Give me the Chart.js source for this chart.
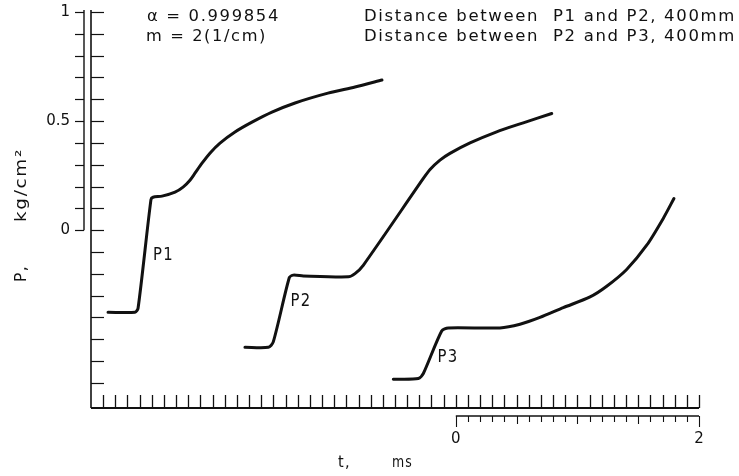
<!DOCTYPE html>
<html>
<head>
<meta charset="utf-8">
<script src="https://cdn.jsdelivr.net/npm/chart.js@4"></script>
<style>
  html, body { margin: 0; padding: 0; background: #fff; }
  #wrap { width: 739px; height: 476px; }
</style>
</head>
<body>
<div id="wrap"><canvas id="scope"></canvas></div>
<script>
// pressure traces, time in ms (lower scale zero), pressure in kg/cm2
var p1Time = [-2.860, -2.638, -2.613, -2.507, -2.490, -2.416, -2.309, -2.243, -2.186, -2.145, -2.087, -2.022, -1.939, -1.816, -1.676, -1.512, -1.322, -1.051, -0.829, -0.607];
var p1Pressure = [-0.376, -0.376, -0.358, 0.140, 0.151, 0.156, 0.174, 0.197, 0.229, 0.261, 0.307, 0.353, 0.399, 0.450, 0.495, 0.541, 0.583, 0.628, 0.656, 0.688];

var p2Time = [-1.734, -1.542, -1.501, -1.369, -1.336, -1.254, -0.884, -0.829, -0.761, -0.267, -0.212, -0.130, -0.048, 0.117, 0.336, 0.555, 0.789];
var p2Pressure = [-0.537, -0.537, -0.512, -0.217, -0.206, -0.210, -0.214, -0.199, -0.161, 0.237, 0.278, 0.321, 0.352, 0.400, 0.451, 0.492, 0.535];

var p3Time = [-0.514, -0.308, -0.267, -0.116, -0.062, 0.363, 0.528, 0.692, 0.884, 1.104, 1.241, 1.405, 1.570, 1.706, 1.794];
var p3Pressure = [-0.683, -0.680, -0.657, -0.462, -0.448, -0.448, -0.431, -0.400, -0.355, -0.306, -0.257, -0.180, -0.069, 0.054, 0.145];

var curveNames = ['P1', 'P2', 'P3'];
var pressureTickLabels = [0, 0.5, 1];
var timeTickLabels = [0, 2];

function pts(t, p){ return t.map(function(v, i){ return {x: v, y: p[i]}; }); }

var FONT = '"DejaVu Sans", sans-serif';

// lettering on the original is wide: stretch glyphs a bit and spread to the width
function spaced(ctx, text, x, y, w){
  ctx.letterSpacing = '1.5px';
  var m = ctx.measureText(text).width;
  var sx = Math.min(1.35, w / m);
  ctx.save();
  ctx.translate(x, y);
  ctx.scale(sx, 1);
  var rest = w / sx - m;
  if(rest > 0){ ctx.letterSpacing = (1.5 + rest / text.length) + 'px'; }
  ctx.fillText(text, 0, 0);
  ctx.restore();
  ctx.letterSpacing = '0px';
}

var scopeAxes = {
  id: 'scopeAxes',
  afterDraw: function(chart){
    var ctx = chart.ctx, a = chart.chartArea, x = chart.scales.x, y = chart.scales.y;
    var k, px, py;
    ctx.save();
    ctx.strokeStyle = '#111';
    ctx.fillStyle = '#111';
    ctx.lineCap = 'butt';

    // main pressure axis with inner ticks
    ctx.lineWidth = 1.6;
    ctx.beginPath();
    ctx.moveTo(a.left, y.getPixelForValue(1) - 2);
    ctx.lineTo(a.left, a.bottom);
    ctx.stroke();
    ctx.lineWidth = 1.2;
    for(k = -7; k <= 10; k++){
      py = Math.round(y.getPixelForValue(k / 10)) + 0.5;
      ctx.beginPath(); ctx.moveTo(a.left, py); ctx.lineTo(a.left + 13, py); ctx.stroke();
    }
    // outer scale, 0 .. 1
    ctx.lineWidth = 1.4;
    ctx.beginPath();
    ctx.moveTo(a.left - 7, y.getPixelForValue(1) - 2);
    ctx.lineTo(a.left - 7, y.getPixelForValue(0));
    ctx.stroke();
    ctx.lineWidth = 1.2;
    for(k = 0; k <= 10; k++){
      py = Math.round(y.getPixelForValue(k / 10)) + 0.5;
      ctx.beginPath(); ctx.moveTo(a.left - 16, py); ctx.lineTo(a.left - 7, py); ctx.stroke();
    }

    // time axis with upward ticks
    ctx.lineWidth = 2;
    ctx.beginPath(); ctx.moveTo(a.left, a.bottom); ctx.lineTo(a.right, a.bottom); ctx.stroke();
    ctx.lineWidth = 1.3;
    for(k = -29; k <= 20; k++){
      px = Math.round(x.getPixelForValue(k / 10)) + 0.5;
      ctx.beginPath(); ctx.moveTo(px, a.bottom); ctx.lineTo(px, a.bottom - 13); ctx.stroke();
    }
    // lower 0-2 ms reference scale
    var sy = a.bottom + 8;
    ctx.lineWidth = 1.5;
    ctx.beginPath(); ctx.moveTo(x.getPixelForValue(0), sy); ctx.lineTo(x.getPixelForValue(2), sy); ctx.stroke();
    ctx.lineWidth = 1.1;
    for(k = 0; k <= 20; k++){
      px = Math.round(x.getPixelForValue(k / 10)) + 0.5;
      var len = (k === 0 || k === 20) ? 11 : (k % 5 === 0 ? 8 : 6);
      ctx.beginPath(); ctx.moveTo(px, sy); ctx.lineTo(px, sy + len); ctx.stroke();
    }

    // curve labels, placed at data coordinates next to each rise
    ctx.font = '17px ' + FONT;
    ctx.textBaseline = 'middle';
    ctx.textAlign = 'left';
    var labelAt = [[-2.49, -0.115], [-1.36, -0.326], [-0.15, -0.583]];
    curveNames.forEach(function(n, i){
      spaced(ctx, n, x.getPixelForValue(labelAt[i][0]), y.getPixelForValue(labelAt[i][1]), 21);
    });

    // notes at the top
    ctx.font = '15px ' + FONT;
    spaced(ctx, 'α = 0.999854', 147, 17, 133);
    spaced(ctx, 'm = 2(1/cm)', 146, 37, 121);
    spaced(ctx, 'Distance between  P1 and P2, 400mm', 364, 17, 372);
    spaced(ctx, 'Distance between  P2 and P3, 400mm', 364, 37, 372);

    // axis titles
    ctx.font = '16px ' + FONT;
    spaced(ctx, 't,', 338, 463, 13);
    spaced(ctx, 'ms', 392, 463, 21);
    ctx.save();
    ctx.translate(22, 0);
    ctx.rotate(-Math.PI / 2);
    spaced(ctx, 'P,', -282, 0, 17);
    spaced(ctx, 'kg/cm²', -222, 0, 74);
    ctx.restore();

    ctx.restore();
  }
};

var line = {borderColor: '#111', borderWidth: 3, pointRadius: 0, tension: 0.25, fill: false, borderCapStyle: 'round', borderJoinStyle: 'round'};

new Chart(document.getElementById('scope'), {
  type: 'line',
  data: {
    datasets: [
      Object.assign({label: curveNames[0], data: pts(p1Time, p1Pressure)}, line),
      Object.assign({label: curveNames[1], data: pts(p2Time, p2Pressure)}, line),
      Object.assign({label: curveNames[2], data: pts(p3Time, p3Pressure)}, line)
    ]
  },
  options: {
    responsive: true,
    maintainAspectRatio: false,
    animation: false,
    layout: {padding: {top: 12, right: 40, bottom: 0, left: 0}},
    plugins: {legend: {display: false}, tooltip: {enabled: false}},
    scales: {
      x: {
        type: 'linear', min: -3, max: 2,
        grid: {display: false, drawTicks: false},
        border: {display: false},
        afterBuildTicks: function(s){ s.ticks = timeTickLabels.map(function(v){ return {value: v}; }); },
        afterFit: function(s){ s.height = 68; s.paddingLeft = 0; s.paddingRight = 0; },
        ticks: {padding: 22, color: '#111', font: {family: FONT, size: 15}, maxRotation: 0,
          callback: function(v){ return String(v); }}
      },
      y: {
        type: 'linear', min: -0.815, max: 1,
        grid: {display: false, drawTicks: false},
        border: {display: false},
        afterBuildTicks: function(s){ s.ticks = pressureTickLabels.map(function(v){ return {value: v}; }); },
        afterFit: function(s){ s.width = 91; s.paddingTop = 0; s.paddingBottom = 0; },
        ticks: {padding: 21, color: '#111', font: {family: FONT, size: 15},
          callback: function(v){ return String(v); }}
      }
    }
  },
  plugins: [scopeAxes]
});
</script>
</body>
</html>
